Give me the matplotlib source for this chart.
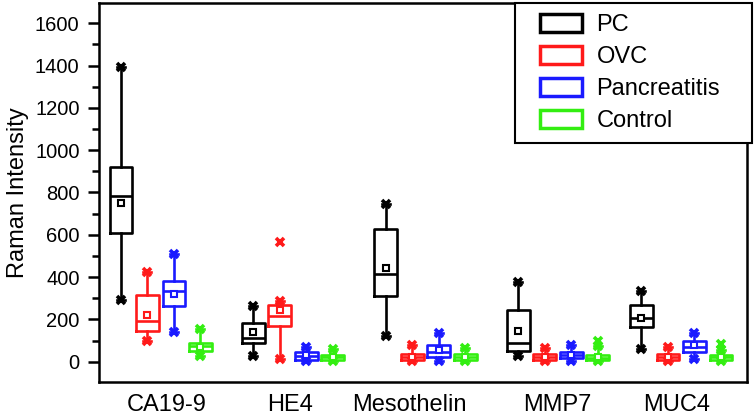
import matplotlib
matplotlib.use('Agg')
import matplotlib.pyplot as plt
from matplotlib.patches import Patch, Rectangle
from matplotlib.legend_handler import HandlerPatch

plt.rcParams['font.family'] = ['Liberation Sans', 'DejaVu Sans']

# categories and series
markers_names = ['CA19-9', 'HE4', 'Mesothelin', 'MMP7', 'MUC4']
series = ['PC', 'OVC', 'Pancreatitis', 'Control']
colors = ['#000000', '#ff1a1a', '#1a1aff', '#33ee11']

# box statistics per series, one value per marker
pc_lo = [290, 27, 122, 27, 60]
pc_q1 = [609, 86, 309, 52, 166]
pc_med = [782, 114, 416, 90, 206]
pc_q3 = [922, 185, 628, 245, 269]
pc_hi = [1392, 264, 744, 375, 332]
pc_mean = [748, 138, 443, 146, 206]
pc_extra = [[], [], [], [], []]

ovc_lo = [98, 11, 2, 2, 2]
ovc_q1 = [146, 170, 10, 10, 10]
ovc_med = [190, 218, 24, 20, 22]
ovc_q3 = [313, 269, 38, 36, 36]
ovc_hi = [424, 288, 79, 63, 71]
ovc_mean = [222, 245, 22, 22, 24]
ovc_extra = [[], [567], [], [], []]

pan_lo = [142, 2, 2, 2, 11]
pan_q1 = [264, 10, 21, 15, 47]
pan_med = [336, 28, 47, 30, 71]
pan_q3 = [380, 45, 79, 45, 100]
pan_hi = [510, 68, 135, 79, 135]
pan_mean = [320, 30, 55, 32, 80]
pan_extra = [[], [], [], [], []]

ctl_lo = [28, 3, 2, 2, 2]
ctl_q1 = [52, 10, 10, 8, 10]
ctl_med = [74, 22, 22, 18, 20]
ctl_q3 = [90, 30, 35, 30, 30]
ctl_hi = [154, 60, 63, 72, 56]
ctl_mean = [70, 22, 24, 20, 22]
ctl_extra = [[], [], [], [100], [84]]

all_stats = [
    (pc_lo, pc_q1, pc_med, pc_q3, pc_hi, pc_mean, pc_extra),
    (ovc_lo, ovc_q1, ovc_med, ovc_q3, ovc_hi, ovc_mean, ovc_extra),
    (pan_lo, pan_q1, pan_med, pan_q3, pan_hi, pan_mean, pan_extra),
    (ctl_lo, ctl_q1, ctl_med, ctl_q3, ctl_hi, ctl_mean, ctl_extra),
]

group_x = [0, 1, 2, 3, 3.93]
offsets = [-0.3, -0.1, 0.1, 0.3]
label_x = [0.049, 0.977, 1.875, 2.992, 3.898]

fig = plt.figure(figsize=(7.56, 4.17), dpi=100)
ax = fig.add_axes([0.131, 0.084, 0.857, 0.909])

lw = 1.9
for s, (lo, q1, med, q3, hi, mean, extra) in enumerate(all_stats):
    c = colors[s]
    stats = []
    for i in range(len(markers_names)):
        stats.append(dict(whislo=lo[i], q1=q1[i], med=med[i], q3=q3[i],
                          whishi=hi[i], mean=mean[i],
                          fliers=[lo[i], hi[i]] + extra[i]))
    pos = [g + offsets[s] for g in group_x]
    ax.bxp(stats, positions=pos, widths=0.17, capwidths=0.06,
           showmeans=True, showfliers=True, manage_ticks=False,
           boxprops=dict(color=c, lw=lw),
           whiskerprops=dict(color=c, lw=lw),
           capprops=dict(color=c, lw=lw),
           medianprops=dict(color=c, lw=lw),
           meanprops=dict(marker='s', markerfacecolor='white',
                          markeredgecolor=c, markersize=4.5, mew=1.5),
           flierprops=dict(marker='x', markeredgecolor=c,
                           markersize=5.5, mew=2.6))

ax.set_xlim(-0.464, 4.426)
ax.set_ylim(-96, 1696)
ax.set_xticks(label_x)
ax.set_xticklabels(markers_names, fontsize=17)
ax.tick_params(axis='x', length=0, pad=9)
ax.set_yticks(range(0, 1601, 200))
ax.set_yticks(range(100, 1600, 200), minor=True)
ax.tick_params(axis='y', which='major', labelsize=14.5, length=8, width=1.8, pad=6)
ax.tick_params(axis='y', which='minor', length=5, width=1.8)
ax.set_ylabel('Raman Intensity', fontsize=17, labelpad=4)
for sp in ax.spines.values():
    sp.set_linewidth(1.8)


# legend box drawn on the right part of a wider handle slot
def box_handle(legend, orig_handle, xdescent, ydescent, width, height, fontsize):
    w = 42 / 100 * 72
    return Rectangle((-xdescent + width - w, -ydescent), w, height)


handles = [Patch(facecolor='none', edgecolor=c, lw=2.5) for c in colors]
leg = ax.legend(handles, series, loc='upper left',
                bbox_to_anchor=(0.642, 0.0, 0.366, 1.0), mode='expand',
                borderaxespad=0, fontsize=17, frameon=True, fancybox=False,
                edgecolor='black', handlelength=2.4, handleheight=0.85,
                handletextpad=0.6, labelspacing=0.4, borderpad=0.45,
                handler_map={Patch: HandlerPatch(patch_func=box_handle)})
leg.get_frame().set_linewidth(1.5)
leg.get_frame().set_alpha(1)

fig.savefig('out.png', dpi=100)
